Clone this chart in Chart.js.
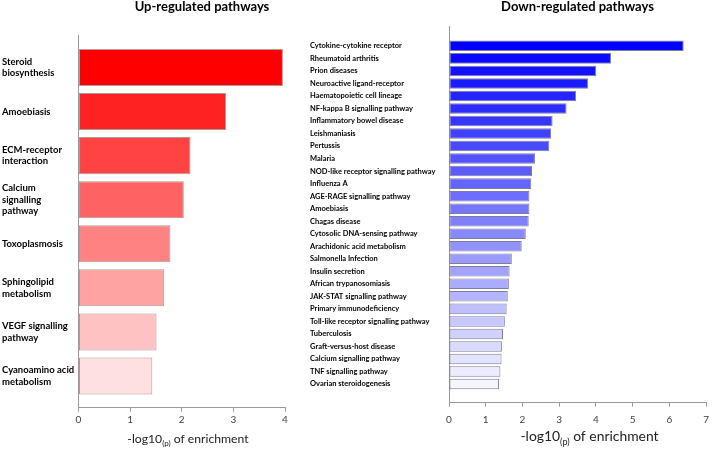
<!DOCTYPE html>
<html>
<head>
<meta charset="utf-8">
<script src="https://cdn.jsdelivr.net/npm/chart.js@4.4.1/dist/chart.umd.min.js"></script>
<style>
  html, body { margin: 0; padding: 0; background: #fff; }
  #wrap { position: relative; width: 716px; height: 449px; }
  #up { position: absolute; left: 0; top: 0; }
  #down { position: absolute; left: 300px; top: 0; }
</style>
</head>
<body>
<div id="wrap">
  <canvas id="up" width="300" height="449"></canvas>
  <canvas id="down" width="416" height="449"></canvas>
</div>
<script>
// up-regulated
const upPathways = [
  ['Steroid', 'biosynthesis'],
  'Amoebiasis',
  ['ECM-receptor', 'interaction'],
  ['Calcium', 'signalling', 'pathway'],
  'Toxoplasmosis',
  ['Sphingolipid', 'metabolism'],
  ['VEGF signalling', 'pathway'],
  ['Cyanoamino acid', 'metabolism']
];
const upValues = [3.96, 2.86, 2.17, 2.04, 1.78, 1.66, 1.51, 1.43];
const upTicks = [0, 1, 2, 3, 4];

// down-regulated
const downPathways = [
  'Cytokine-cytokine receptor',
  'Rheumatoid arthritis',
  'Prion diseases',
  'Neuroactive ligand-receptor',
  'Haematopoietic cell lineage',
  'NF-kappa B signalling pathway',
  'Inflammatory bowel disease',
  'Leishmaniasis',
  'Pertussis',
  'Malaria',
  'NOD-like receptor signalling pathway',
  'Influenza A',
  'AGE-RAGE signalling pathway',
  'Amoebiasis',
  'Chagas disease',
  'Cytosolic DNA-sensing pathway',
  'Arachidonic acid metabolism',
  'Salmonella Infection',
  'Insulin secretion',
  'African trypanosomiasis',
  'JAK-STAT signalling pathway',
  'Primary immunodeficiency',
  'Toll-like receptor signalling pathway',
  'Tuberculosis',
  'Graft-versus-host disease',
  'Calcium signalling pathway',
  'TNF signalling pathway',
  'Ovarian steroidogenesis'
];
const downValues = [6.39, 4.41, 4.01, 3.79, 3.46, 3.20, 2.82, 2.78, 2.73, 2.34,
                    2.26, 2.24, 2.19, 2.19, 2.17, 2.09, 1.98, 1.71, 1.65, 1.63,
                    1.60, 1.57, 1.52, 1.47, 1.44, 1.43, 1.40, 1.36];
const downTicks = [0, 1, 2, 3, 4, 5, 6, 7];

const axisGray = '#9a9a9a';
const upColors = ['#ff0000', '#ff2222', '#ff4242', '#ff6262', '#ff8282', '#ffa2a2', '#ffc2c2', '#ffe0e0'];
const downColors = downValues.map((v, i) => {
  const c = Math.round(i * 245 / (downValues.length - 1));
  return `rgb(${c},${c},255)`;
});

// titles + x title with subscript (p)
const headings = {
  id: 'headings',
  afterDraw(chart, args, opts) {
    const ctx = chart.ctx;
    ctx.save();
    ctx.fillStyle = '#000';
    ctx.textAlign = 'center';
    ctx.textBaseline = 'alphabetic';
    ctx.font = 'bold ' + opts.titleSize + 'px Lato';
    ctx.fillText(opts.title, opts.titleX, opts.titleY);

    const big = opts.xSize + 'px Lato';
    const small = Math.round(opts.xSize * 0.68) + 'px Lato';
    const parts = [['-log10', big, 0], ['(p)', small, opts.xSize * 0.28], [' of enrichment', big, 0]];
    let w = 0;
    parts.forEach(p => { ctx.font = p[1]; w += ctx.measureText(p[0]).width; });
    let x = opts.xTitleX - w / 2;
    ctx.textAlign = 'left';
    ctx.fillStyle = '#222';
    parts.forEach(p => {
      ctx.font = p[1];
      ctx.fillText(p[0], x, opts.xTitleY + p[2]);
      x += ctx.measureText(p[0]).width;
    });
    ctx.restore();
  }
};

function yScale(labels, min, max, width, size, lh) {
  return {
    type: 'linear',
    reverse: true,
    offset: false,
    min: min,
    max: max,
    grid: { display: false },
    border: { color: axisGray },
    afterBuildTicks: s => { s.ticks = labels.map((l, i) => ({ value: i })); },
    afterFit: s => { s.width = width; },
    ticks: {
      autoSkip: false,
      crossAlign: 'far',
      color: '#000',
      font: { family: 'Lato', weight: 'bold', size: size, lineHeight: lh },
      callback: v => labels[v]
    }
  };
}

function xScale(ticks, height, pad) {
  return {
    type: 'linear',
    min: ticks[0],
    max: ticks[ticks.length - 1],
    afterBuildTicks: s => { s.ticks = ticks.map(t => ({ value: t })); },
    afterFit: s => { s.height = height; },
    grid: { drawOnChartArea: false, drawTicks: true, tickLength: 4, color: axisGray },
    border: { color: axisGray },
    ticks: { color: '#404040', font: { family: 'Lato', size: 10 }, padding: pad }
  };
}

new Chart(document.getElementById('up'), {
  type: 'bar',
  data: {
    datasets: [{
      data: upValues.map((v, i) => ({ x: v, y: i })),
      backgroundColor: upColors,
      borderColor: 'rgba(110,70,70,0.55)',
      borderWidth: 1,
      borderSkipped: false,
      barPercentage: 0.84,
      categoryPercentage: 1
    }]
  },
  options: {
    indexAxis: 'y',
    responsive: false,
    animation: false,
    layout: { padding: { left: 2, right: 15, top: 35, bottom: 0 } },
    scales: {
      x: xScale(upTicks, 41.3, 2),
      y: yScale(upPathways, -0.737, 7.719, 76.5, 9.5, 1.2)
    },
    plugins: {
      legend: { display: false },
      tooltip: { enabled: false },
      headings: { title: 'Up-regulated pathways', titleSize: 13, titleX: 202, titleY: 11,
                  xSize: 12.2, xTitleX: 188, xTitleY: 442.5 }
    }
  },
  plugins: [headings]
});

new Chart(document.getElementById('down'), {
  type: 'bar',
  data: {
    datasets: [{
      data: downValues.map((v, i) => ({ x: v, y: i })),
      backgroundColor: downColors,
      borderColor: 'rgba(40,40,90,0.6)',
      borderWidth: 1,
      borderSkipped: false,
      barPercentage: 0.84,
      categoryPercentage: 1
    }]
  },
  options: {
    indexAxis: 'y',
    responsive: false,
    animation: false,
    layout: { padding: { left: 10, right: 3.5, top: 26, bottom: 0 } },
    scales: {
      x: xScale(downTicks, 46.3, 7),
      y: yScale(downPathways, -1.585, 28.49, 139, 7.5, 1.2)
    },
    plugins: {
      legend: { display: false },
      tooltip: { enabled: false },
      headings: { title: 'Down-regulated pathways', titleSize: 13, titleX: 277.5, titleY: 11,
                  xSize: 13.9, xTitleX: 289.5, xTitleY: 441 }
    }
  },
  plugins: [headings]
});
</script>
</body>
</html>
